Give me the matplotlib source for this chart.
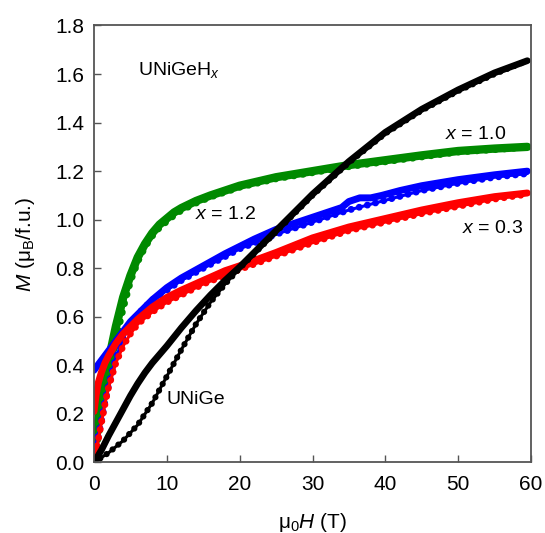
import matplotlib
matplotlib.use("Agg")
import matplotlib.pyplot as plt

plt.rcParams['font.family'] = ['Liberation Sans', 'DejaVu Sans']
plt.rcParams['mathtext.fontset'] = 'custom'
plt.rcParams['mathtext.rm'] = 'Liberation Sans'
plt.rcParams['mathtext.it'] = 'Liberation Sans:italic'

# --- x = 1.0 (vert) ---
H_g_a = [0, 0.5, 1, 2, 3, 4, 5, 6, 7, 8, 9, 10, 11, 12, 14, 16, 18, 20, 25, 30, 35, 40, 45, 50, 55, 59.5]
M_g_a = [0.02, 0.10, 0.18, 0.36, 0.51, 0.64, 0.75, 0.83, 0.89, 0.935, 0.97, 0.995, 1.02, 1.04, 1.07, 1.095, 1.115, 1.135, 1.17, 1.195, 1.22, 1.24, 1.26, 1.28, 1.29, 1.30]
H_g_b = [0, 0.5, 1, 2, 3, 4, 5, 6, 7, 8, 9, 10, 11, 12, 14, 16, 18, 20, 25, 30, 35, 40, 45, 50, 55, 59.5]
M_g_b = [0.06, 0.16, 0.25, 0.42, 0.56, 0.68, 0.77, 0.845, 0.90, 0.945, 0.98, 1.005, 1.03, 1.048, 1.077, 1.10, 1.12, 1.14, 1.175, 1.20, 1.225, 1.245, 1.265, 1.283, 1.293, 1.30]

# --- x = 1.2 (bleu) ---
H_b_up = [0, 0.5, 1, 1.5, 2, 3, 4, 5, 6, 8, 10, 12, 15, 20, 25, 30, 35, 40, 45, 50, 55, 59.5]
M_b_up = [0.04, 0.10, 0.17, 0.25, 0.32, 0.43, 0.51, 0.57, 0.61, 0.67, 0.71, 0.75, 0.80, 0.88, 0.94, 0.99, 1.04, 1.08, 1.12, 1.15, 1.175, 1.19]
H_b_dn = [0, 0.5, 1, 2, 3, 4, 5, 6, 8, 10, 12, 15, 18, 20, 22, 25, 28, 30, 32, 34, 35, 36.5, 38, 39.5, 42, 45, 50, 55, 59.5]
M_b_dn = [0.38, 0.40, 0.42, 0.46, 0.50, 0.54, 0.58, 0.61, 0.67, 0.72, 0.76, 0.81, 0.86, 0.89, 0.92, 0.96, 0.99, 1.01, 1.03, 1.05, 1.075, 1.09, 1.09, 1.10, 1.12, 1.14, 1.165, 1.185, 1.20]

# --- x = 0.3 (rouge) ---
H_r_up = [0, 0.5, 1, 1.5, 2, 3, 4, 5, 6, 8, 10, 12, 15, 20, 25, 30, 35, 40, 45, 50, 55, 59.5]
M_r_up = [0.0, 0.08, 0.16, 0.24, 0.31, 0.41, 0.48, 0.53, 0.57, 0.62, 0.66, 0.69, 0.735, 0.795, 0.85, 0.905, 0.955, 0.99, 1.025, 1.055, 1.085, 1.105]
H_r_dn = [0, 0.3, 0.6, 1, 1.5, 2, 3, 4, 5, 6, 8, 10, 12, 15, 18, 20, 25, 30, 35, 40, 45, 50, 55, 59.5]
M_r_dn = [0.21, 0.28, 0.33, 0.37, 0.41, 0.44, 0.49, 0.53, 0.56, 0.59, 0.64, 0.68, 0.71, 0.75, 0.79, 0.81, 0.865, 0.925, 0.97, 1.005, 1.04, 1.07, 1.095, 1.11]

# --- UNiGe (noir) ---
H_k_up = [0, 2, 4, 6, 8, 10, 12, 14, 16, 18, 20, 22, 25, 28, 30, 35, 40, 45, 50, 55, 59.5]
M_k_up = [0, 0.04, 0.09, 0.155, 0.245, 0.355, 0.465, 0.57, 0.66, 0.735, 0.80, 0.86, 0.95, 1.04, 1.10, 1.235, 1.355, 1.45, 1.53, 1.60, 1.655]
H_k_dn = [0, 1, 2, 3, 4, 5, 6, 7, 8, 10, 12, 14, 16, 18, 20, 22, 25, 28, 30, 35, 40, 45, 50, 55, 59.5]
M_k_dn = [0, 0.05, 0.11, 0.165, 0.22, 0.275, 0.325, 0.37, 0.41, 0.48, 0.555, 0.625, 0.69, 0.75, 0.805, 0.865, 0.955, 1.045, 1.105, 1.24, 1.36, 1.455, 1.535, 1.605, 1.655]

x_ticks = [0, 10, 20, 30, 40, 50, 60]
y_ticks = [0.0, 0.2, 0.4, 0.6, 0.8, 1.0, 1.2, 1.4, 1.6, 1.8]

vert = '#008a00'
bleu = '#0000ff'
rouge = '#ff0000'
noir = '#000000'

fig = plt.figure(figsize=(5.45, 5.33), dpi=100)
ax = fig.add_axes([0.1725, 0.1323, 0.8018, 0.8199])


def branche_pleine(H, M, c, lw=5.0):
    ax.plot(H, M, color=c, lw=lw, solid_capstyle='round', solid_joinstyle='round')


def branche_points(H, M, c, lw=5.0):
    ax.plot(H, M, color=c, lw=2.2, solid_capstyle='round', solid_joinstyle='round')
    ax.plot(H, M, color=c, lw=lw, linestyle=(0, (0.01, 1.2)), dash_capstyle='round')


branche_points(H_g_a, M_g_a, vert, lw=5.5)
branche_pleine(H_g_b, M_g_b, vert, lw=6)

branche_points(H_b_up, M_b_up, bleu)
branche_pleine(H_b_dn, M_b_dn, bleu)

branche_points(H_r_up, M_r_up, rouge)
branche_pleine(H_r_dn, M_r_dn, rouge)

branche_points(H_k_up, M_k_up, noir, lw=4.5)
branche_pleine(H_k_dn, M_k_dn, noir, lw=4.8)

ax.set_xlim(0, 60)
ax.set_ylim(0, 1.8)
ax.set_xticks(x_ticks)
ax.set_yticks(y_ticks)
ax.set_yticklabels([f"{v:.1f}" for v in y_ticks])

for s in ax.spines.values():
    s.set_color('#555555')
    s.set_linewidth(1.3)
ax.tick_params(direction='in', length=5, width=1, color='#555555',
               labelsize=15, pad=7, top=False, right=False)
ax.tick_params(axis='x', pad=9)

ax.text(6.0, 1.615, 'UNiGeH$_{\\mathit{x}}$', fontsize=14, va='center')
ax.text(56.6, 1.35, '$\\mathit{x}$ = 1.0', fontsize=14, va='center', ha='right')
ax.text(13.9, 1.02, '$\\mathit{x}$ = 1.2', fontsize=14, va='center')
ax.text(50.5, 0.965, '$\\mathit{x}$ = 0.3', fontsize=14, va='center')
ax.text(10.0, 0.26, 'UNiGe', fontsize=14, va='center')

ax.set_xlabel('μ$_0$$\\mathit{H}$ (T)', fontsize=15)
ax.set_ylabel('$\\mathit{M}$ (μ$_\\mathrm{B}$/f.u.)', fontsize=15)
ax.xaxis.set_label_coords(0.5, -0.11)
ax.yaxis.set_label_coords(-0.13, 0.5)

fig.savefig("out.png", dpi=100)
